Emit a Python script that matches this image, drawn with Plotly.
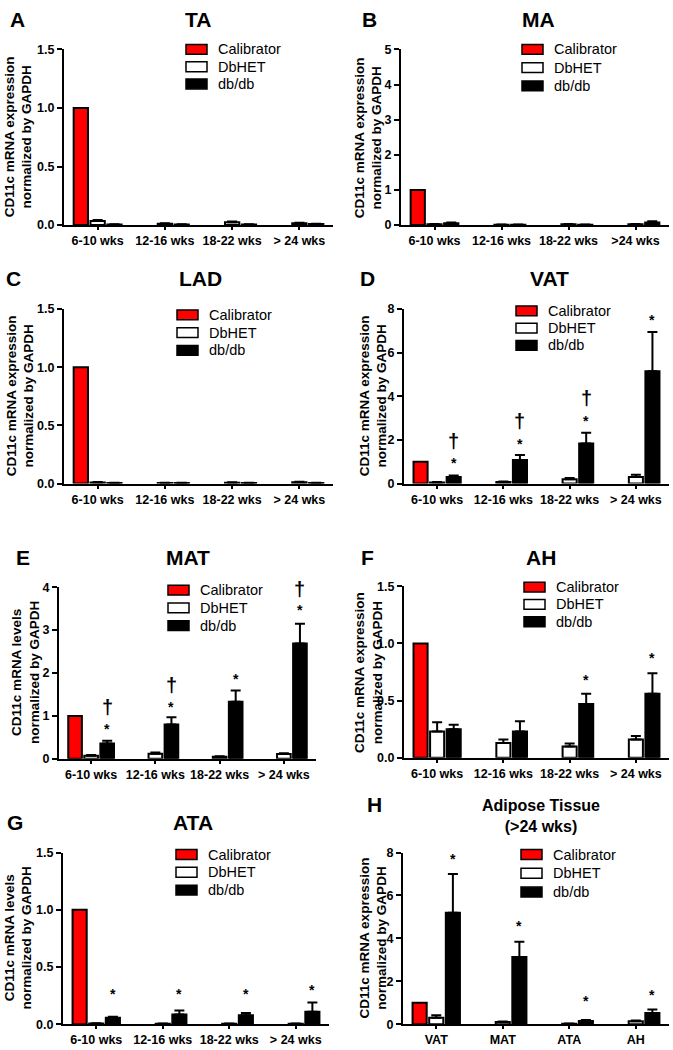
import plotly.graph_objects as go

W, H = 673, 1050
FONT = "Liberation Sans, Arial, sans-serif"

weeks = ["6-10 wks", "12-16 wks", "18-22 wks", "> 24 wks"]
weeks_b = ["6-10 wks", "12-16 wks", "18-22 wks", ">24 wks"]
tissues = ["VAT", "MAT", "ATA", "AH"]

# ---- data ----
# A: TA
ta_cal = [1.0, None, None, None]
ta_het = [0.035, 0.012, 0.025, 0.015]
ta_het_err = [0.008, 0.004, 0.006, 0.005]
ta_db = [0.004, 0.004, 0.004, 0.008]
ta_db_err = [0.002, 0.002, 0.002, 0.004]
# B: MA
ma_cal = [1.0, None, None, None]
ma_het = [0.02, 0.01, 0.02, 0.02]
ma_het_err = [0.01, 0.005, 0.01, 0.01]
ma_db = [0.05, 0.01, 0.01, 0.07]
ma_db_err = [0.02, 0.005, 0.005, 0.04]
# C: LAD
lad_cal = [1.0, None, None, None]
lad_het = [0.01, 0.005, 0.008, 0.012]
lad_het_err = [0.003, 0.002, 0.003, 0.004]
lad_db = [0.004, 0.004, 0.004, 0.004]
lad_db_err = [0.002, 0.002, 0.002, 0.002]
# D: VAT
vat_cal = [1.0, None, None, None]
vat_het = [0.05, 0.07, 0.2, 0.3]
vat_het_err = [0.02, 0.02, 0.06, 0.1]
vat_db = [0.3, 1.08, 1.83, 5.14]
vat_db_err = [0.07, 0.23, 0.5, 1.8]
# E: MAT
mat_cal = [1.0, None, None, None]
mat_het = [0.07, 0.12, 0.05, 0.11]
mat_het_err = [0.02, 0.03, 0.01, 0.02]
mat_db = [0.36, 0.8, 1.33, 2.69]
mat_db_err = [0.06, 0.17, 0.26, 0.46]
# F: AH
ah_cal = [1.0, None, None, None]
ah_het = [0.23, 0.13, 0.1, 0.16]
ah_het_err = [0.08, 0.03, 0.025, 0.03]
ah_db = [0.25, 0.23, 0.47, 0.56]
ah_db_err = [0.04, 0.09, 0.09, 0.18]
# G: ATA
ata_cal = [1.0, None, None, None]
ata_het = [0.006, 0.005, 0.005, 0.004]
ata_het_err = [0.002, 0.002, 0.002, 0.002]
ata_db = [0.057, 0.086, 0.078, 0.11]
ata_db_err = [0.009, 0.034, 0.02, 0.08]
# H: Adipose tissue (>24 wks)
adi_cal = [1.0, None, None, None]
adi_het = [0.3, 0.1, 0.02, 0.14]
adi_het_err = [0.12, 0.03, 0.01, 0.03]
adi_db = [5.2, 3.13, 0.15, 0.52]
adi_db_err = [1.8, 0.72, 0.05, 0.17]

# significance marks: (category index, y, symbol)
vat_marks = [(0, 0.95, "*"), (0, 1.95, "†"), (1, 1.8, "*"), (1, 2.85, "†"),
             (2, 2.85, "*"), (2, 3.9, "†"), (3, 7.5, "*")]
mat_marks = [(0, 0.7, "*"), (0, 1.2, "†"), (1, 1.2, "*"), (1, 1.72, "†"),
             (2, 1.87, "*"), (3, 3.46, "*"), (3, 3.95, "†")]
ah_marks = [(2, 0.68, "*"), (3, 0.87, "*")]
ata_marks = [(0, 0.26, "*"), (1, 0.26, "*"), (2, 0.26, "*"), (3, 0.3, "*")]
adi_marks = [(0, 7.7, "*"), (1, 4.6, "*"), (2, 1.07, "*"), (3, 1.38, "*")]

ylab1 = "CD11c mRNA expression<br>normalized by GAPDH"
ylab2 = "CD11c mRNA levels<br>normalized by GAPDH"

# panel layout in pixels: x0, x1, ytop, ybottom
panels = [
    dict(letter="A", title="TA", cats=weeks, cal=ta_cal, het=ta_het, het_err=ta_het_err,
         db=ta_db, db_err=ta_db_err, marks=[], ymax=1.5, dtick=0.5, fmt=".1f", ylab=ylab1,
         box=(64, 333, 43, 221), letter_xy=(17, 13), title_xy=(198, 13),
         leg=(186, 43, 17.5), ylab_x=18),
    dict(letter="B", title="MA", cats=weeks_b, cal=ma_cal, het=ma_het, het_err=ma_het_err,
         db=ma_db, db_err=ma_db_err, marks=[], ymax=5, dtick=1, fmt="d", ylab=ylab1,
         box=(401, 669, 43, 221), letter_xy=(369, 13), title_xy=(538, 13),
         leg=(522, 43, 18.5), ylab_x=368),
    dict(letter="C", title="LAD", cats=weeks, cal=lad_cal, het=lad_het, het_err=lad_het_err,
         db=lad_db, db_err=lad_db_err, marks=[], ymax=1.5, dtick=0.5, fmt=".1f", ylab=ylab1,
         box=(64, 333, 306, 483), letter_xy=(13, 275), title_xy=(200, 275),
         leg=(177, 312, 18), ylab_x=20),
    dict(letter="D", title="VAT", cats=weeks, cal=vat_cal, het=vat_het, het_err=vat_het_err,
         db=vat_db, db_err=vat_db_err, marks=vat_marks, ymax=8, dtick=2, fmt="d", ylab=ylab1,
         box=(404, 669, 306, 483), letter_xy=(368, 275), title_xy=(549, 275),
         leg=(516, 308, 17.5), ylab_x=373),
    dict(letter="E", title="MAT", cats=weeks, cal=mat_cal, het=mat_het, het_err=mat_het_err,
         db=mat_db, db_err=mat_db_err, marks=mat_marks, ymax=4, dtick=1, fmt="d", ylab=ylab2,
         box=(59, 316, 588, 762), letter_xy=(23, 558), title_xy=(188, 558),
         leg=(168, 591, 18), ylab_x=25),
    dict(letter="F", title="AH", cats=weeks, cal=ah_cal, het=ah_het, het_err=ah_het_err,
         db=ah_db, db_err=ah_db_err, marks=ah_marks, ymax=1.5, dtick=0.5, fmt=".1f", ylab=ylab1,
         box=(404, 669, 587, 761), letter_xy=(368, 558), title_xy=(541, 558),
         leg=(524, 588, 17.5), ylab_x=368),
    dict(letter="G", title="ATA", cats=weeks, cal=ata_cal, het=ata_het, het_err=ata_het_err,
         db=ata_db, db_err=ata_db_err, marks=ata_marks, ymax=1.5, dtick=0.5, fmt=".1f", ylab=ylab2,
         box=(63, 329, 857, 1031), letter_xy=(15, 827), title_xy=(193, 827),
         leg=(176, 859, 18), ylab_x=18),
    dict(letter="H", title="Adipose Tissue<br>(>24 wks)", cats=tissues, cal=adi_cal, het=adi_het,
         het_err=adi_het_err, db=adi_db, db_err=adi_db_err, marks=adi_marks, ymax=8, dtick=2,
         fmt="d", ylab=ylab1, box=(403, 669, 857, 1031), letter_xy=(374, 808), title_xy=(541, 820),
         leg=(521, 859, 19), ylab_x=373),
]

fig = go.Figure()
annotations = []
shapes = []


def px(x):
    return x / W


def py(y):
    return 1 - y / H


series_style = [("Calibrator", "#ff0000"), ("DbHET", "#ffffff"), ("db/db", "#000000")]

for i, p in enumerate(panels):
    n = "" if i == 0 else str(i + 1)
    xa, ya = "x" + n, "y" + n
    xs = list(range(len(p["cats"])))
    vals = [(p["cal"], None), (p["het"], p["het_err"]), (p["db"], p["db_err"])]
    for (name, col), (v, e) in zip(series_style, vals):
        tr = dict(x=xs, y=v, name=name, marker=dict(color=col, line=dict(color="black", width=2)),
                  xaxis=xa, yaxis=ya, showlegend=False)
        if e is not None:
            tr["error_y"] = dict(type="data", array=e, arrayminus=[0] * len(e), symmetric=False,
                                 color="black", thickness=2, width=5)
        fig.add_trace(go.Bar(**tr))
    x0, x1, yt, yb = p["box"]
    fig.layout["xaxis" + n] = dict(
        domain=[px(x0), px(x1)], anchor=ya, range=[-0.5, len(xs) - 0.5],
        tickmode="array", tickvals=xs, ticktext=p["cats"], showline=True, linecolor="black",
        linewidth=2, ticks="outside", ticklen=3, tickwidth=2, tickcolor="black", showgrid=False,
        zeroline=False, tickfont=dict(family=FONT, size=12.5, color="black", weight="bold"))
    fig.layout["yaxis" + n] = dict(
        domain=[py(yb), py(yt)], anchor=xa, range=[0, p["ymax"]], dtick=p["dtick"],
        tickformat=p["fmt"], showline=True, linecolor="black", linewidth=2, ticks="outside",
        ticklen=5, tickwidth=2, tickcolor="black", showgrid=False, zeroline=False,
        tickfont=dict(family=FONT, size=12.5, color="black", weight="bold"))
    # panel letter and title
    annotations.append(dict(text=p["letter"], x=px(p["letter_xy"][0]), y=py(p["letter_xy"][1]),
                            xref="paper", yref="paper", showarrow=False, xanchor="center",
                            yanchor="middle", font=dict(family=FONT, size=21, color="black",
                                                         weight="bold")))
    tsize = 16 if "<br>" in p["title"] else 21
    annotations.append(dict(text=p["title"], x=px(p["title_xy"][0]), y=py(p["title_xy"][1]),
                            xref="paper", yref="paper", showarrow=False, xanchor="center",
                            yanchor="middle", font=dict(family=FONT, size=tsize, color="black",
                                                         weight="bold")))
    # y-axis title
    annotations.append(dict(text=p["ylab"], x=px(p["ylab_x"]), y=py((yt + yb) / 2),
                            xref="paper", yref="paper", showarrow=False, textangle=-90,
                            xanchor="center", yanchor="middle",
                            font=dict(family=FONT, size=13.5, color="black", weight="bold")))
    # legend (manual)
    lx, ly, dy = p["leg"]
    for k, (name, col) in enumerate(series_style):
        cy = ly + k * dy
        shapes.append(dict(type="rect", xref="paper", yref="paper", x0=px(lx), x1=px(lx + 21),
                           y0=py(cy + 5), y1=py(cy - 5), fillcolor=col,
                           line=dict(color="black", width=1.5)))
        annotations.append(dict(text=name, x=px(lx + 30), y=py(cy), xref="paper", yref="paper",
                                showarrow=False, xanchor="left", yanchor="middle",
                                font=dict(family=FONT, size=14.5, color="black")))
    # significance marks above db/db bars
    for ci, yv, sym in p["marks"]:
        annotations.append(dict(text=sym, x=ci + 0.25, y=yv, xref=xa, yref=ya, showarrow=False,
                                xanchor="center", yanchor="middle",
                                font=dict(family=FONT, size=14 if sym == "*" else 20,
                                          color="black", weight="bold")))

fig.update_layout(width=W, height=H, margin=dict(l=0, r=0, t=0, b=0), paper_bgcolor="white",
                  plot_bgcolor="white", barmode="group", bargap=0.25, bargroupgap=0.15,
                  annotations=annotations, shapes=shapes, showlegend=False)

fig.write_html("out.html", config={"displayModeBar": False},
               post_script="document.body.style.margin='0';document.body.style.overflow='hidden';")
